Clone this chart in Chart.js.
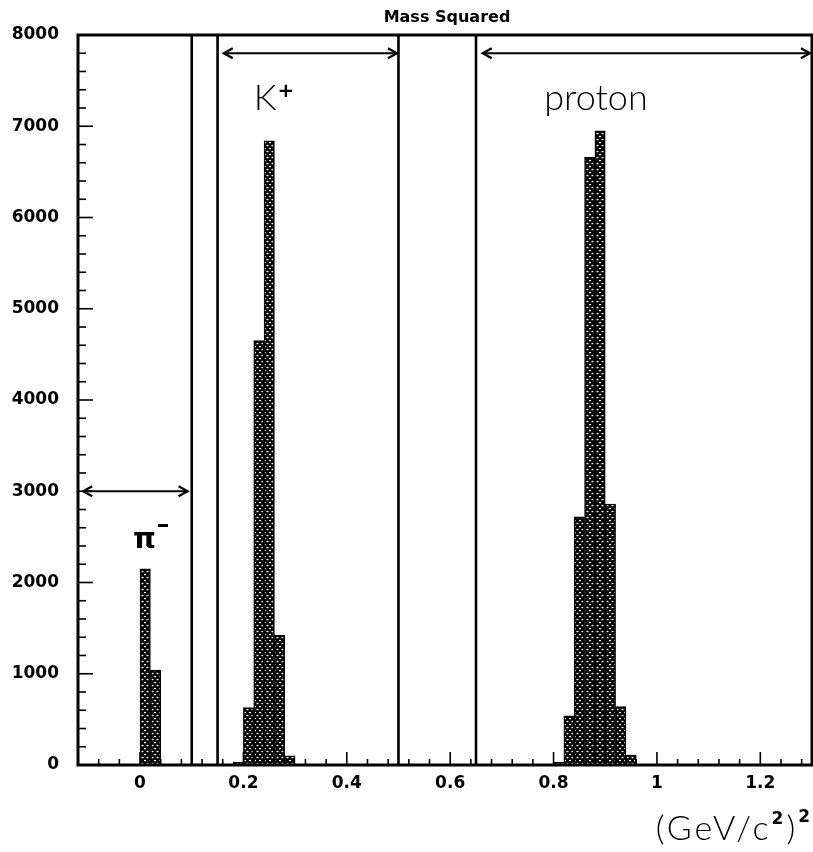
<!DOCTYPE html>
<html>
<head>
<meta charset="utf-8">
<script src="https://cdn.jsdelivr.net/npm/chart.js@4.4.1/dist/chart.umd.min.js"></script>
<style>
  html, body { margin: 0; padding: 0; background: #fff; }
  canvas { display: block; }
</style>
</head>
<body>
<canvas id="grafico" width="813" height="852"></canvas>
<script>
// centros dos bins em (GeV/c^2)^2, largura 0.02
const piBins = [0.01, 0.03];
const piCounts = [2150, 1040];
const kBins = [0.19, 0.21, 0.23, 0.25, 0.27, 0.29];
const kCounts = [30, 630, 4650, 6840, 1420, 100];
const protonBins = [0.81, 0.83, 0.85, 0.87, 0.89, 0.91, 0.93, 0.95];
const protonCounts = [30, 540, 2720, 6660, 6950, 2860, 640, 110];

const xTicks = [0, 0.2, 0.4, 0.6, 0.8, 1, 1.2];
const yTicks = [0, 1000, 2000, 3000, 4000, 5000, 6000, 7000, 8000];

// linhas de corte e setas das janelas de selecao
const cortes = [0.1, 0.15, 0.5, 0.65];
const setas = [
  { de: -0.11, ate: 0.092, y: 3000 },
  { de: 0.162, ate: 0.497, y: 7800 },
  { de: 0.663, ate: 1.296, y: 7800 }
];

const titulo = "Mass Squared";

function hachura() {
  const c = document.createElement("canvas");
  c.width = 10; c.height = 6;
  const g = c.getContext("2d");
  g.fillStyle = "#000";
  g.fillRect(0, 0, 10, 6);
  g.fillStyle = "#fff";
  const pontos = [[2.5, 1.5], [7.5, 1.5], [0, 4.5], [5, 4.5], [10, 4.5]];
  pontos.forEach(([px, py]) => {
    g.beginPath();
    g.ellipse(px, py, 1.1, 0.85, 0, 0, Math.PI * 2);
    g.fill();
  });
  return g.createPattern(c, "repeat");
}

const bins = [...piBins, ...kBins, ...protonBins];
const counts = [...piCounts, ...kCounts, ...protonCounts];

function linha(ctx, x1, y1, x2, y2) {
  ctx.beginPath();
  ctx.moveTo(x1, y1);
  ctx.lineTo(x2, y2);
  ctx.stroke();
}

const anotacoes = {
  id: "anotacoes",
  beforeDatasetsDraw(chart) {
    const { ctx, chartArea: a, scales: { x, y } } = chart;
    ctx.save();
    ctx.strokeStyle = "#000";
    ctx.lineWidth = 1.6;
    // ticks do eixo x (menores a cada 0.04)
    for (let k = -3; k <= 33; k++) {
      const v = k * 0.04;
      if (v < x.min - 1e-9 || v > x.max + 1e-9) continue;
      const maior = Math.abs(v / 0.2 - Math.round(v / 0.2)) < 1e-6;
      const px = x.getPixelForValue(v);
      linha(ctx, px, a.bottom, px, a.bottom - (maior ? 13 : 6));
    }
    // ticks do eixo y (menores a cada 200)
    for (let v = 0; v <= 8000; v += 200) {
      const maior = v % 1000 === 0;
      const py = y.getPixelForValue(v);
      linha(ctx, a.left, py, a.left + (maior ? 15 : 8), py);
    }
    ctx.restore();
  },
  afterDatasetsDraw(chart) {
    const { ctx, chartArea: a, scales: { x, y } } = chart;
    ctx.save();
    ctx.strokeStyle = "#000";
    ctx.fillStyle = "#000";

    ctx.lineWidth = 2.6;
    cortes.forEach(v => {
      const px = x.getPixelForValue(v);
      linha(ctx, px, a.top, px, a.bottom);
    });

    ctx.lineWidth = 3;
    ctx.strokeRect(a.left, a.top, a.right - a.left, a.bottom - a.top);

    // setas duplas
    ctx.lineWidth = 2.2;
    setas.forEach(s => {
      const x1 = x.getPixelForValue(s.de);
      const x2 = x.getPixelForValue(s.ate);
      const py = y.getPixelForValue(s.y);
      linha(ctx, x1, py, x2, py);
      ctx.beginPath();
      ctx.moveTo(x1 + 9, py - 5); ctx.lineTo(x1, py); ctx.lineTo(x1 + 9, py + 5);
      ctx.moveTo(x2 - 9, py - 5); ctx.lineTo(x2, py); ctx.lineTo(x2 - 9, py + 5);
      ctx.stroke();
    });

    // rotulos das particulas
    ctx.textAlign = "left";
    ctx.textBaseline = "alphabetic";
    ctx.font = "300 36px Lato, 'DejaVu Sans'";
    const kx = x.getPixelForValue(0.22), ky = y.getPixelForValue(7180);
    ctx.fillText("K", kx, ky);
    const kw = ctx.measureText("K").width;
    ctx.font = "bold 20px 'DejaVu Sans'";
    ctx.fillText("+", kx + kw + 1, ky - 13);

    ctx.font = "300 36px Lato, 'DejaVu Sans'";
    ctx.fillText("proton", x.getPixelForValue(0.782), y.getPixelForValue(7180));

    ctx.font = "bold 29px 'DejaVu Sans'";
    const pxPi = x.getPixelForValue(-0.0135), pyPi = y.getPixelForValue(2378);
    ctx.fillText("π", pxPi, pyPi);
    const pw = ctx.measureText("π").width;
    ctx.fillRect(pxPi + pw + 2, pyPi - 24, 10, 3);

    // titulo
    ctx.font = "bold 16px 'DejaVu Sans'";
    ctx.textAlign = "center";
    ctx.textBaseline = "middle";
    ctx.fillText(titulo, 447, 18);

    // unidade do eixo x
    ctx.textAlign = "left";
    ctx.textBaseline = "alphabetic";
    const partes = [
      ["(GeV/c", "300 34px Lato, 'DejaVu Sans'", 0],
      ["2", "bold 17px 'DejaVu Sans'", -16],
      [")", "300 34px Lato, 'DejaVu Sans'", 0],
      ["2", "bold 17px 'DejaVu Sans'", -18]
    ];
    ctx.letterSpacing = "3px";
    let total = 0;
    partes.forEach(([t, f]) => { ctx.font = f; total += ctx.measureText(t).width; });
    let cx = 813 - total;
    const base = 840;
    partes.forEach(([t, f, dy]) => {
      ctx.font = f;
      ctx.fillText(t, cx, base + dy);
      cx += ctx.measureText(t).width;
    });
    ctx.restore();
  }
};

new Chart(document.getElementById("grafico").getContext("2d"), {
  type: "bar",
  data: {
    datasets: [{
      label: titulo,
      data: bins.map((b, i) => ({ x: b, y: counts[i] })),
      backgroundColor: hachura(),
      borderColor: "#000",
      borderWidth: 1.5,
      borderSkipped: "bottom",
      barPercentage: 1,
      categoryPercentage: 1
    }]
  },
  options: {
    responsive: false,
    animation: false,
    devicePixelRatio: 1,
    layout: { padding: { top: 35, right: 1, left: 0, bottom: 0 } },
    plugins: {
      legend: { display: false },
      title: { display: false },
      tooltip: { enabled: false }
    },
    scales: {
      x: {
        type: "linear",
        min: -0.12,
        max: 1.3,
        offset: false,
        grid: { display: false, drawTicks: false },
        border: { display: false },
        afterBuildTicks: s => { s.ticks = xTicks.map(v => ({ value: v })); },
        afterFit: s => { s.height = 87; },
        ticks: {
          color: "#000",
          padding: 8,
          maxRotation: 0,
          font: { family: "'DejaVu Sans'", size: 17, weight: "bold" },
          callback: v => String(+v.toFixed(1))
        }
      },
      y: {
        min: 0,
        max: 8000,
        grid: { display: false, drawTicks: false },
        border: { display: false },
        afterBuildTicks: s => { s.ticks = yTicks.map(v => ({ value: v })); },
        afterFit: s => { s.width = 78; },
        ticks: {
          color: "#000",
          padding: 19,
          font: { family: "'DejaVu Sans'", size: 17, weight: "bold" },
          callback: v => String(v)
        }
      }
    }
  },
  plugins: [anotacoes]
});
</script>
</body>
</html>
